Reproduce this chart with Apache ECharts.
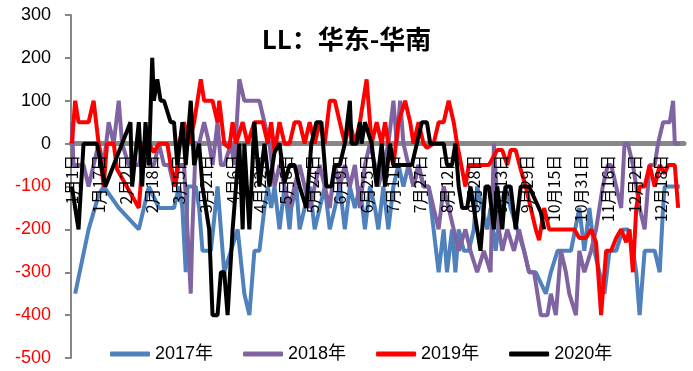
<!DOCTYPE html>
<html><head><meta charset="utf-8">
<script src="https://cdn.jsdelivr.net/npm/echarts@6/dist/echarts.min.js"></script>
<style>html,body{margin:0;padding:0;background:#fff}#c{width:693px;height:371px}</style>
</head><body><div id="c"></div><script>
// day-of-year index (0 = 1月1日) and value for each series
const days2017=[2,10,16,19,28,40,46,52,61,64,66,68,69,74,76,78,83,87,89,91,95,99,103,106,109,112,115,117,119,121,124,127,130,131,134,136,139,142,145,148,151,154,157,160,163,166,169,172,175,178,181,183,186,189,192,195,198,201,204,207,210,213,216,219,222,224,227,229,231,234,237,240,242,245,248,250,253,256,259,262,266,270,273,277,283,286,290,294,298,303,306,309,312,315,318,321,325,329,332,335,337,339,342,345,348,351,353,354,360,363];
const vals2017=[-350,-200,-120,-100,-150,-200,-100,-150,-150,-100,-150,-300,-100,-100,-150,-250,-250,-100,-200,-300,-250,-200,-350,-400,-250,-250,-150,-100,-150,-100,-200,-100,-200,-150,-100,-200,-150,-100,-200,-150,-100,-200,-150,-100,-200,-100,-150,-100,-200,-100,-150,-200,-100,-200,-100,-50,-100,-50,-100,-50,-100,-100,-200,-300,-200,-300,-200,-300,-200,-250,-250,-200,-100,-150,-200,-150,-250,-150,-100,-150,-200,-250,-300,-300,-350,-300,-250,-250,-250,-150,-250,-150,-250,-300,-350,-250,-250,-200,-200,-250,-300,-400,-250,-250,-250,-300,-150,-100,-100,-100];
const days2018=[0,1,7,10,13,16,19,22,25,28,30,34,40,43,46,49,52,55,58,61,64,67,69,71,72,74,76,79,82,84,87,89,91,95,97,100,103,106,109,112,115,118,121,124,127,130,133,136,139,142,145,148,151,154,157,160,163,166,169,172,175,178,181,183,186,189,192,194,196,198,201,204,207,210,213,216,219,222,225,228,231,235,238,242,246,250,252,255,257,260,264,267,270,273,276,280,284,286,289,292,295,297,301,303,306,310,313,315,317,320,322,325,328,330,332,335,337,339,342,345,348,350,353,357,359,360,363];
const vals2018=[50,-50,-50,-100,-50,0,-50,50,0,100,0,-50,-50,0,-50,-50,0,-50,-50,-100,-50,-50,-200,-350,-200,0,0,50,0,-50,50,-50,-50,0,-50,150,100,100,100,100,50,0,-100,-50,-100,-150,-100,-50,-100,-150,-100,-50,-100,-150,-50,-100,-50,-100,-50,-150,-50,0,-50,-100,-50,0,100,0,100,0,-50,-100,-50,-100,-100,-150,-200,-100,-150,-200,-250,-200,-250,-300,-250,-300,0,-200,-250,-200,-250,-200,-250,-300,-300,-400,-400,-350,-400,-250,-300,-350,-400,-250,-300,-250,-200,-150,-100,-50,-50,-100,-150,0,0,-50,-100,-150,-200,-50,-50,0,50,50,100,0,0];
const days2019=[0,2,4,10,13,16,19,21,25,27,40,43,46,49,52,57,59,62,64,67,70,73,77,79,84,87,88,91,94,96,98,102,105,109,114,117,119,121,124,127,130,133,136,139,142,145,148,151,154,157,160,163,166,169,172,174,176,179,182,185,187,189,192,195,199,202,204,207,210,212,216,219,222,225,228,230,233,235,237,244,249,254,257,260,262,265,268,271,274,277,279,282,285,288,292,296,300,303,307,310,313,316,319,322,325,328,331,333,335,337,339,342,345,348,351,354,356,360,362];
const vals2019=[0,100,50,50,100,0,-100,0,0,-60,-150,0,0,-20,0,0,-50,-100,0,50,0,50,150,100,100,50,100,0,-10,50,0,50,0,50,50,0,50,-20,50,0,0,50,50,0,50,0,50,0,100,100,50,0,50,0,50,100,150,0,50,0,50,0,-50,50,100,50,0,50,0,-10,0,50,50,100,50,0,-60,-100,-50,-50,-50,-15,-15,-50,-15,-15,-60,-100,-150,-200,-225,-150,-200,-200,-200,-200,-200,-220,-220,-200,-230,-400,-250,-250,-220,-200,-230,-200,-300,-150,-100,-100,-50,-100,-50,-70,-50,-50,-150];
const days2020=[0,4,7,15,20,35,36,40,42,44,46,48,49,50,51,53,55,59,61,63,66,68,71,73,76,78,82,84,87,89,91,93,96,100,102,103,106,109,112,115,118,121,124,127,130,133,136,140,143,146,149,152,155,157,160,163,166,167,170,172,173,175,176,179,182,185,187,190,192,196,203,206,209,212,214,222,224,227,229,231,233,236,238,242,244,247,249,252,254,257,259,262,265,268,271,273,280,282];
const vals2020=[-100,-200,0,0,-100,50,-100,50,-100,50,-50,200,100,100,150,100,100,50,50,-50,50,-50,100,-50,0,-100,-200,-400,-400,-300,-300,-400,-200,0,-200,0,-200,50,-100,0,-100,-20,0,-90,-50,-50,-100,-150,0,50,50,-100,-100,-50,-50,0,100,0,0,50,0,50,50,0,-100,0,-100,0,-50,-50,-50,0,50,50,0,0,-50,-50,0,-100,-150,-150,-100,-200,-250,-100,-100,-200,-100,-200,-100,-100,-200,-100,-100,-100,-160,-200];
const seriesNames=['2017年','2018年','2019年','2020年'];
const seriesColors=['#4F81BD','#8064A2','#FF0000','#000000'];
const yTicks={min:-500,max:300,step:100};

// categories: every day of the year
const monthLen=[31,29,31,30,31,30,31,31,30,31,30,31];
const categories=[];
monthLen.forEach((n,m)=>{for(let d=1;d<=n;d++)categories.push((m+1)+'月'+d+'日');});

const pair=(ds,vs)=>ds.map((d,i)=>[d,vs[i]]);
const allData=[pair(days2017,vals2017),pair(days2018,vals2018),pair(days2019,vals2019),pair(days2020,vals2020)];
const font='"Liberation Sans","Noto Sans CJK SC",sans-serif';

const gridTop=15, gridBottom=13, H=371;
const plotH=H-gridTop-gridBottom;
const zeroFromBottom=plotH*(0-yTicks.min)/(yTicks.max-yTicks.min);

const xBase={type:'category',data:categories,boundaryGap:true,position:'bottom',offset:-zeroFromBottom,
  axisTick:{show:false},splitLine:{show:false}};

const chart=echarts.init(document.getElementById('c'),null,{renderer:'canvas'});
chart.setOption({
  animation:false,
  backgroundColor:'#fff',
  title:{text:'LL：华东-华南',left:'center',top:21,textStyle:{fontSize:26,fontWeight:'bold',color:'#000',fontFamily:'"Noto Sans CJK SC",sans-serif'}},
  legend:{data:seriesNames,left:105,top:340,itemWidth:40,itemHeight:5,itemGap:30,icon:'roundRect',
    textStyle:{fontSize:18,color:'#000',fontFamily:font}},
  grid:{left:71,right:9,top:gridTop,bottom:gridBottom,containLabel:false,outerBoundsMode:'none'},
  xAxis:[
    Object.assign({},xBase,{z:1,axisLine:{onZero:false,lineStyle:{color:'#878787',width:5}},axisLabel:{show:false}}),
    Object.assign({},xBase,{z:20,axisLine:{show:false,onZero:false},
      axisLabel:{interval:15,rotate:90,fontSize:16,margin:11,color:'#000',fontFamily:'"Noto Sans CJK SC",sans-serif'}})
  ],
  yAxis:{type:'value',min:yTicks.min,max:yTicks.max,interval:yTicks.step,
    axisLine:{show:true,lineStyle:{color:'#868686',width:2}},
    axisTick:{show:true,length:6,lineStyle:{color:'#868686',width:2}},
    axisLabel:{fontSize:18,margin:20,fontFamily:font,color:v=>Number(v)<0?'#FF0000':'#000000'},
    splitLine:{show:false}},
  series:seriesNames.map((n,i)=>({name:n,type:'line',xAxisIndex:0,data:allData[i],showSymbol:false,symbol:'none',
    lineStyle:{width:4,color:seriesColors[i]},itemStyle:{color:seriesColors[i]},z:2+i}))
});
</script></body></html>
